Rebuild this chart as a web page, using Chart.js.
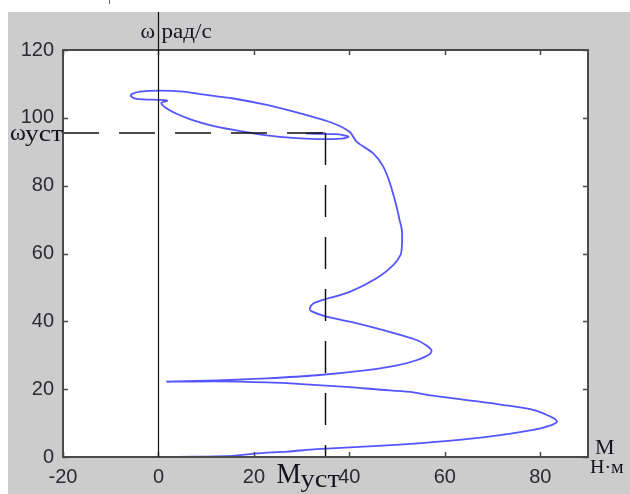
<!DOCTYPE html>
<html>
<head>
<meta charset="utf-8">
<script src="https://cdn.jsdelivr.net/npm/chart.js@4.4.1/dist/chart.umd.min.js"></script>
<style>
html,body{margin:0;padding:0;background:#fff;}
#wrap{width:630px;height:494px;position:relative;}
</style>
</head>
<body>
<div id="wrap"><canvas id="c" width="630" height="494"></canvas></div>
<script>
// ---- data ----
const xTicks = [-20, 0, 20, 40, 60, 80];
const yTicks = [0, 20, 40, 60, 80, 100, 120];
const xRange = [-20, 90];
const yRange = [0, 120];

// torque M, N·m
const torqueM = [
  0, 8, 15.6, 20, 27, 33.2, 45, 57.5, 68, 78.5, 82.5, 83.5, 82, 78.5, 72, 64.6, 57, 52.7, 46, 40.1, 30, 22.7, 12.3, 1.8,
  12.3, 22.7, 33.2, 43.7, 50, 54.2, 56.8, 57.2, 56, 54.1, 47.1, 40.1, 35.2, 32, 31.7, 32.5, 34.5, 40.1, 45.7, 49.2, 50.7, 51, 51, 50.5, 49.9, 48.5, 47.1, 45, 41.5, 40.1,
  36.6, 29.7, 22.7, 15.7, 8.7, 5.2, 0.3, -3.9, -5.6, -5.8, -4.6, 1.8, 0.6,
  1.5, 3.8, 7, 11, 15.5, 20.5, 26, 32, 37.5, 39.8, 38.5, 36.6, 33, 31, 33.5, 35
];
// angular speed ω, rad/s
const omega = [
  0, 0.1, 0.3, 1.0, 1.6, 2.3, 3.2, 4.4, 5.8, 8.0, 9.5, 10.5, 12, 13.9, 15.4, 16.8, 18.2, 19.2, 19.9, 20.6, 21.5, 22.0, 22.3, 22.2,
  22.6, 23.2, 24.1, 25.6, 27, 28.6, 30.3, 31.5, 33, 34.5, 37.4, 39.9, 41.4, 43, 43.8, 45.3, 46.3, 48.7, 52.7, 56.6, 59.5, 62, 66.9, 70, 73.8, 80.7, 85.6, 89.5, 93, 95.8,
  98.4, 101.3, 103.8, 105.7, 107, 107.7, 108, 107.7, 107, 106.4, 105.6, 105.1, 104.3,
  103, 101.2, 99.4, 97.8, 96.5, 95.3, 94.3, 93.8, 93.8, 94.4, 95, 95.2, 95.3, 95.4, 95.5, 95.5
];
const omegaSteady = 95.5;   // ω уст
const torqueSteady = 35;    // M уст

const curve = torqueM.map((m, i) => ({x: m, y: omega[i]}));
const hDash = [{x: xRange[0], y: omegaSteady}, {x: torqueSteady, y: omegaSteady}];
const vDash = [{x: torqueSteady, y: omegaSteady}, {x: torqueSteady, y: 0}];

function txt(ctx, s, x, y, size, sx) {
  ctx.save();
  ctx.translate(x, y);
  ctx.scale(sx || 1, 1);
  ctx.font = size + 'px "Liberation Serif", "Times New Roman", serif';
  ctx.fillText(s, 0, 0);
  ctx.restore();
}

const decor = {
  id: 'decor',
  beforeDraw(chart) {
    const ctx = chart.ctx, a = chart.chartArea;
    ctx.save();
    ctx.fillStyle = '#ffffff';
    ctx.fillRect(0, 0, chart.width, chart.height);
    ctx.fillStyle = '#cccccc';
    ctx.fillRect(8, 12, chart.width - 8, chart.height - 12);
    ctx.fillStyle = '#ffffff';
    ctx.fillRect(a.left, a.top, a.right - a.left, a.bottom - a.top);
    ctx.restore();
  },
  afterDatasetsDraw(chart) {
    const ctx = chart.ctx, a = chart.chartArea;
    const xs = chart.scales.x, ys = chart.scales.y;
    ctx.save();
    // frame
    ctx.strokeStyle = '#4a4a4a';
    ctx.lineWidth = 2;
    ctx.strokeRect(a.left, a.top, a.right - a.left, a.bottom - a.top);
    // inward ticks
    ctx.lineWidth = 1.5;
    xTicks.forEach(v => {
      const p = Math.round(xs.getPixelForValue(v)) + 0.5;
      ctx.beginPath();
      ctx.moveTo(p, a.bottom); ctx.lineTo(p, a.bottom - 5);
      ctx.moveTo(p, a.top); ctx.lineTo(p, a.top + 5);
      ctx.stroke();
    });
    yTicks.forEach(v => {
      const p = Math.round(ys.getPixelForValue(v)) + 0.5;
      ctx.beginPath();
      ctx.moveTo(a.left, p); ctx.lineTo(a.left + 5, p);
      ctx.moveTo(a.right, p); ctx.lineTo(a.right - 5, p);
      ctx.stroke();
    });
    // ω axis at M = 0 (extends above the plot)
    const x0 = Math.round(xs.getPixelForValue(0)) + 0.5;
    ctx.strokeStyle = '#111';
    ctx.lineWidth = 1.2;
    ctx.beginPath();
    ctx.moveTo(x0, 12); ctx.lineTo(x0, a.bottom);
    ctx.stroke();
    // small stray mark at top
    ctx.strokeStyle = '#666';
    ctx.lineWidth = 1;
    ctx.beginPath(); ctx.moveTo(109.5, 0); ctx.lineTo(109.5, 4); ctx.stroke();

    // labels
    ctx.fillStyle = '#141420';
    ctx.textBaseline = 'alphabetic';
    ctx.textAlign = 'left';
    txt(ctx, 'ω', x0 - 18, 38, 21, 1.05);
    txt(ctx, 'рад/с', x0 + 3, 38, 21, 1.1);

    const yU = ys.getPixelForValue(omegaSteady);
    txt(ctx, 'ω', 10, yU + 7, 23, 1.05);
    txt(ctx, 'уст', 25, yU + 8, 23, 1.2);

    const xU = xs.getPixelForValue(torqueSteady);
    txt(ctx, 'M', xU - 49, a.bottom + 26, 29, 0.95);
    txt(ctx, 'уст', xU - 25, a.bottom + 30, 26, 1.1);

    txt(ctx, 'M', a.right + 7, a.bottom - 3, 22, 1);
    txt(ctx, 'Н·м', a.right + 2, a.bottom + 16, 19, 1.05);
    ctx.restore();
  }
};

new Chart(document.getElementById('c'), {
  type: 'scatter',
  data: {
    datasets: [
      {data: hDash, showLine: true, borderColor: '#111', borderWidth: 1.5, borderDash: [36, 20], pointRadius: 0},
      {data: vDash, showLine: true, borderColor: '#111', borderWidth: 1.5, borderDash: [32, 20], pointRadius: 0},
      {data: curve, showLine: true, borderColor: 'rgba(70,70,255,0.92)', borderWidth: 1.8, pointRadius: 0, tension: 0.3}
    ]
  },
  options: {
    responsive: false,
    animation: false,
    events: [],
    layout: {padding: {left: 8, top: 50, right: 42, bottom: 0}},
    plugins: {legend: {display: false}, tooltip: {enabled: false}},
    scales: {
      x: {
        type: 'linear', min: xRange[0], max: xRange[1],
        afterBuildTicks: s => { s.ticks = xTicks.map(v => ({value: v})); },
        afterFit: s => { s.height = 37; },
        grid: {display: false, drawTicks: false},
        border: {display: false},
        ticks: {padding: 8, color: '#2a2a33', font: {family: '"Liberation Sans", Arial, sans-serif', size: 20}, maxRotation: 0, autoSkip: false}
      },
      y: {
        type: 'linear', min: yRange[0], max: yRange[1],
        afterBuildTicks: s => { s.ticks = yTicks.map(v => ({value: v})); },
        afterFit: s => { s.width = 55; },
        grid: {display: false, drawTicks: false},
        border: {display: false},
        ticks: {padding: 9, color: '#2a2a33', font: {family: '"Liberation Sans", Arial, sans-serif', size: 20}, autoSkip: false}
      }
    }
  },
  plugins: [decor]
});
</script>
</body>
</html>
